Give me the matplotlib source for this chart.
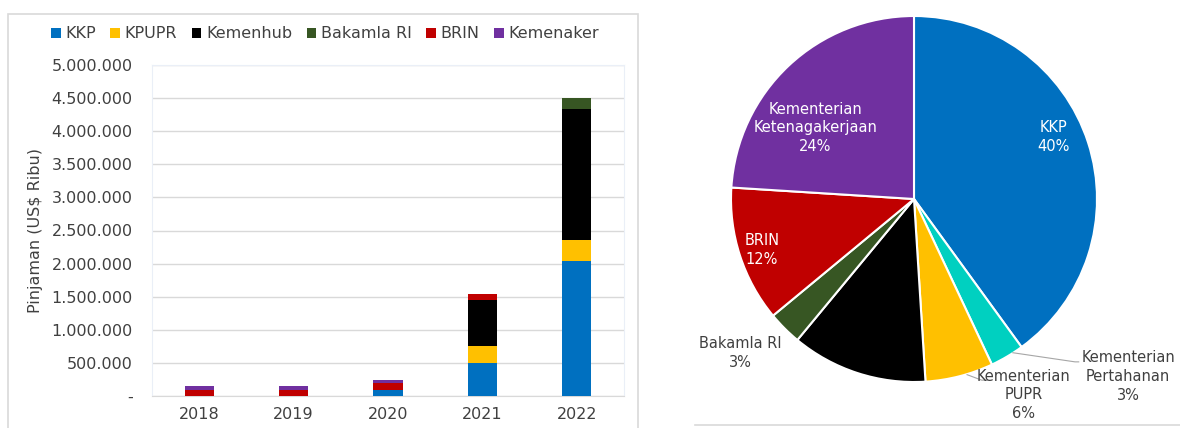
import matplotlib.pyplot as plt
from matplotlib.patches import Rectangle
from matplotlib.lines import Line2D
from matplotlib.ticker import FuncFormatter
import numpy as np

# data: pinjaman per K/L (US$ ribu)
years = ["2018", "2019", "2020", "2021", "2022"]
kkp = [0, 0, 95000, 500000, 2037000]
kpupr = [0, 0, 0, 262000, 312000]
kemenhub = [0, 0, 0, 684000, 1987000]
bakamla = [0, 0, 0, 0, 171000]
brin = [95000, 95000, 100000, 100000, 0]
kemenaker = [55000, 55000, 40000, 0, 0]

# pie: share per K/L (%)
pie_labels = ["KKP", "Kementerian\nPertahanan", "Kementerian\nPUPR", "Kemenhub",
              "Bakamla RI", "BRIN", "Kementerian\nKetenagakerjaan"]
pie_values = [40, 3, 6, 12, 3, 12, 24]

plt.rcParams['font.family'] = ['DejaVu Sans']
txt = "#404040"
grid = "#d9d9d9"

fig = plt.figure(figsize=(11.8, 4.28), dpi=100)

# ---- stacked bars
ax = fig.add_axes([152 / 1180, 1 - 396 / 428, 472 / 1180, 331 / 428])
x = np.arange(len(years))
series = [("KKP", kkp, "#0070C0"), ("KPUPR", kpupr, "#FFC000"),
          ("Kemenhub", kemenhub, "#000000"), ("Bakamla RI", bakamla, "#375623"),
          ("BRIN", brin, "#C00000"), ("Kemenaker", kemenaker, "#7030A0")]
bottom = np.zeros(len(years))
for name, vals, col in series:
    ax.bar(x, vals, 0.31, bottom=bottom, color=col, label=name, zorder=3)
    bottom += np.array(vals)

ax.set_xlim(-0.5, 4.5)
ax.set_ylim(0, 5000000)
ax.set_yticks(np.arange(0, 5000001, 500000))
ax.yaxis.set_major_formatter(FuncFormatter(
    lambda v, p: "-" if v == 0 else f"{int(v):,}".replace(",", ".")))
ax.set_xticks(x)
ax.set_xticklabels(years)
ax.tick_params(length=0, labelsize=11.5, colors=txt)
ax.tick_params(axis="y", pad=14)
ax.tick_params(axis="x", pad=8)
ax.grid(axis="y", color=grid, lw=1, zorder=0)
for s in ["top", "right", "left"]:
    ax.spines[s].set_color("#eaeff7")
ax.spines["bottom"].set_color(grid)
ax.set_ylabel("Pinjaman (US$ Ribu)", fontsize=11.5, color=txt)
ax.yaxis.set_label_coords(-0.23, 0.5)

fig.legend(loc="center", bbox_to_anchor=(325 / 1180, 1 - 34 / 428), ncol=6,
           frameon=False, fontsize=11.5, labelcolor=txt,
           handlelength=0.6, handleheight=0.6, handletextpad=0.3,
           columnspacing=0.9)

# panel frame for the bar chart
fig.patches.append(Rectangle((8 / 1180, -0.1), 630 / 1180, 1.1 - 14 / 428,
                             transform=fig.transFigure, fill=False,
                             edgecolor=grid, lw=1.2))

# ---- pie
pax = fig.add_axes([(914 - 183) / 1180, (428 - 382) / 428, 366 / 1180, 366 / 428])
pie_colors = ["#0070C0", "#00D0C0", "#FFC000", "#000000", "#375623",
              "#C00000", "#7030A0"]
wedges, _ = pax.pie(pie_values, colors=pie_colors, startangle=90,
                    counterclock=False,
                    wedgeprops=dict(edgecolor="white", linewidth=1.5))
pax.set_xlim(-1, 1)
pax.set_ylim(-1, 1)

fs = 10.5
pax.text(0.76, 0.34, f"{pie_labels[0]}\n{pie_values[0]}%", color="white",
         ha="center", va="center", fontsize=fs, linespacing=1.3)
pax.text(-0.54, 0.39, f"{pie_labels[6]}\n{pie_values[6]}%", color="white",
         ha="center", va="center", fontsize=fs, linespacing=1.3)
pax.text(-0.83, -0.28, f"{pie_labels[5]}\n{pie_values[5]}%", color="white",
         ha="center", va="center", fontsize=fs, linespacing=1.3)
pax.text(-0.95, -0.84, f"{pie_labels[4]}\n{pie_values[4]}%", color=txt,
         ha="center", va="center", fontsize=fs, linespacing=1.3)
pax.text(0.60, -1.07, f"{pie_labels[2]}\n{pie_values[2]}%", color=txt,
         ha="center", va="center", fontsize=fs, linespacing=1.3,
         clip_on=False)
pax.text(1.17, -0.97, f"{pie_labels[1]}\n{pie_values[1]}%", color=txt,
         ha="center", va="center", fontsize=fs, linespacing=1.3,
         clip_on=False)
# leader lines
pax.plot([0.29, 0.37, 0.40], [-0.96, -0.99, -0.99], color="#a6a6a6", lw=0.8,
         clip_on=False)
pax.plot([0.54, 0.88, 0.90], [-0.84, -0.89, -0.89], color="#a6a6a6", lw=0.8,
         clip_on=False)

fig.lines.append(Line2D([695 / 1180, 1], [1 - 425 / 428] * 2,
                        transform=fig.transFigure, color=grid, lw=1.2))

fig.savefig("out.png", dpi=100)
